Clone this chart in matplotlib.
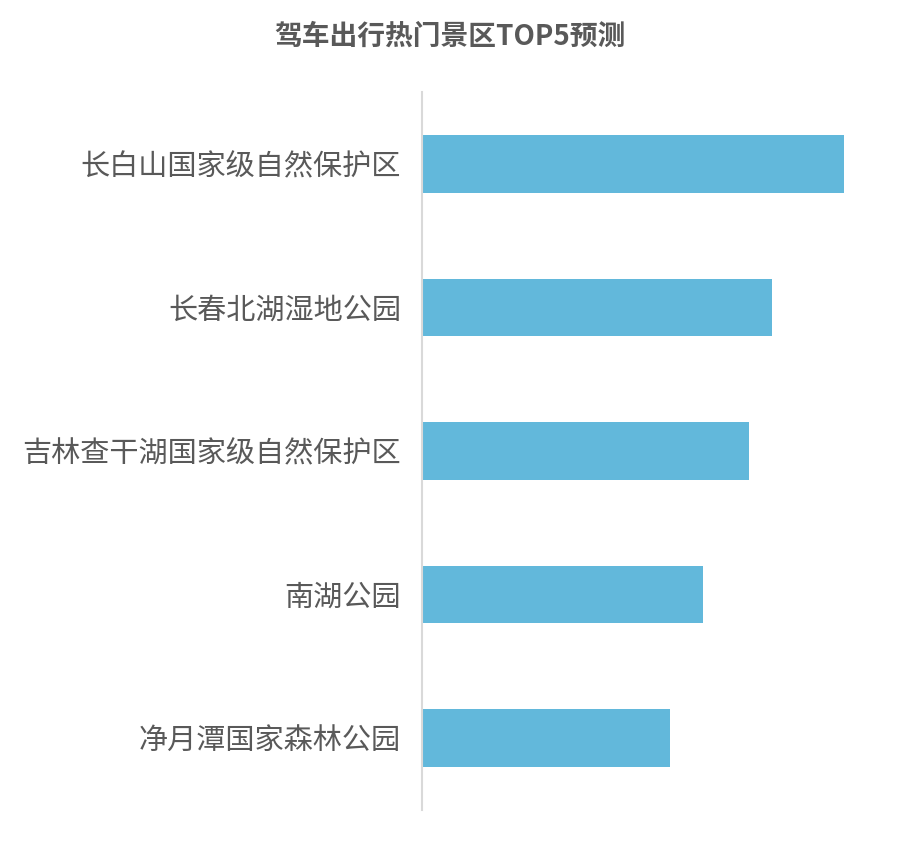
import matplotlib
matplotlib.use("Agg")
import matplotlib.pyplot as plt

plt.rcParams['font.family'] = ['Noto Sans CJK SC', 'DejaVu Sans']

title = "驾车出行热门景区TOP5预测"
categories = ["长白山国家级自然保护区", "长春北湖湿地公园", "吉林查干湖国家级自然保护区", "南湖公园", "净月潭国家森林公园"]
values = [422, 350, 327, 281, 248]

fig = plt.figure(figsize=(8.98, 8.41), dpi=100)
W, H = 898, 841
ax = fig.add_axes([422 / W, 1 - 810 / H, 444 / W, 718 / H])
ypos = list(range(len(categories)))
ax.barh(ypos, values, height=0.4, color='#62B8DB', zorder=2)
ax.set_ylim(len(categories) - 0.5, -0.5)
ax.set_xlim(0, 444)
ax.set_yticks(ypos)
ax.set_yticklabels(categories, fontsize=21, color='#595959')
ax.tick_params(axis='y', length=0, pad=15)
ax.set_xticks([])
for s in ['top', 'right', 'bottom']:
    ax.spines[s].set_visible(False)
ax.spines['left'].set_color('#D9D9D9')
ax.spines['left'].set_linewidth(1.5)
fig.text(450 / W, 1 - 37 / H, title, ha='center', va='center', fontsize=20,
         fontweight='bold', color='#595959')
fig.savefig('out.png', dpi=100, facecolor='white')
